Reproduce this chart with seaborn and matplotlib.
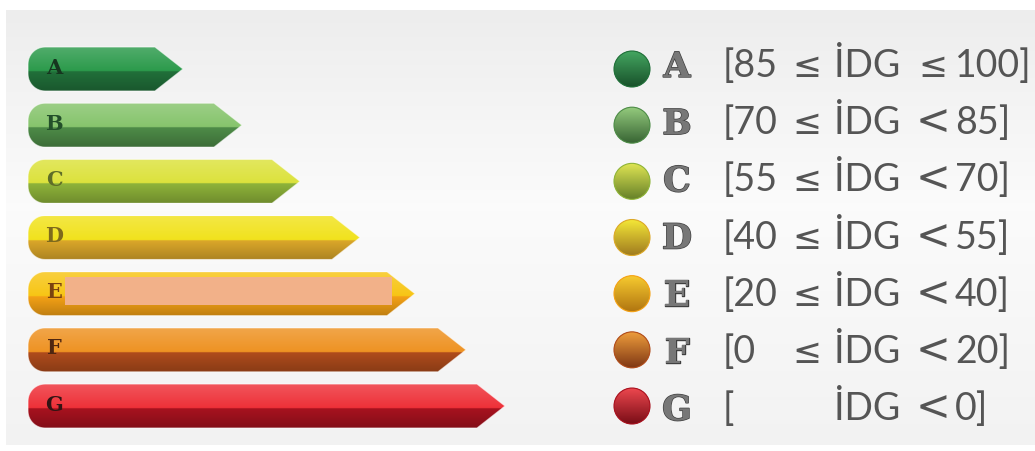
import numpy as np
import pandas as pd
import matplotlib
matplotlib.use("Agg")
import matplotlib.pyplot as plt
import seaborn as sns
from matplotlib.path import Path
from matplotlib.patches import PathPatch, Rectangle, Ellipse
from matplotlib import colors as mcolors
import matplotlib.patheffects as pe

# Energy classes, arrow lengths and score ranges (İDG)
grades = ["A", "B", "C", "D", "E", "F", "G"]
arrow_length = [155, 214, 272, 332, 387, 438, 477]
range_low = ["85", "70", "55", "40", "20", "0", ""]
range_high = ["100", "85", "70", "55", "40", "20", "0"]
high_op = ["≤", "<", "<", "<", "<", "<", "<"]

upper_colors = ["#2b9a4b", "#86c46c", "#dce23c", "#f1e21c", "#f7c514", "#ee9222", "#ee3038"]
lower_colors = ["#21703a", "#4e8c48", "#8fb43a", "#dca82a", "#f5a216", "#b04c1c", "#a8121f"]
letter_colors = ["#16361f", "#234f2a", "#5f6e28", "#7d6a1c", "#7a4210", "#4f2610", "#321414"]

sns.set_theme(style="white")
plt.rcParams["font.family"] = ["DejaVu Sans"]

W, H = 1035, 451
fig = plt.figure(figsize=(W / 100, H / 100), dpi=100)
ax = fig.add_axes([0, 0, 1, 1])

ROW = 56.17          # pixels between rows
X0 = 28              # left edge of the arrows
def ypix(p):
    return (p - 69) / ROW

df = pd.DataFrame({"grade": grades, "length": arrow_length})
sns.barplot(data=df, x="length", y="grade", hue="grade", palette=upper_colors,
            orient="h", width=44 / ROW, legend=False, ax=ax)
bars = list(ax.patches)


def mix(c1, c2, t):
    return c1 + (c2 - c1) * t


def gradient(upper, lower, n=240, split=0.55, light=0.18, dark=0.78):
    up = np.array(mcolors.to_rgb(upper))
    lo = np.array(mcolors.to_rgb(lower))
    up_l = mix(up, np.ones(3), light)
    lo_d = lo * dark
    rows = []
    for v in np.linspace(0, 1, n):
        if v < split:
            rows.append(mix(up_l, up, v / split))
        else:
            rows.append(mix(lo, lo_d, (v - split) / (1 - split)))
    return np.clip(np.array(rows), 0, 1)[:, None, :]


def smooth_gradient(upper, lower, n=120):
    up = mix(np.array(mcolors.to_rgb(upper)), np.ones(3), 0.12)
    lo = np.array(mcolors.to_rgb(lower)) * 0.72
    rows = [mix(up, lo, v) for v in np.linspace(0, 1, n)]
    return np.clip(np.array(rows), 0, 1)[:, None, :]


def arrow_path(x0, y0, w, h, rx, ry, tip):
    xb = x0 + w - tip
    pts = [(x0 + rx, y0), (xb, y0), (x0 + w, y0 + h / 2), (xb, y0 + h), (x0 + rx, y0 + h)]
    cx, cy = x0 + rx, y0 + h - ry
    for a in np.linspace(np.pi / 2, np.pi, 14)[1:]:
        pts.append((cx + rx * np.cos(a), cy + ry * np.sin(a)))
    cx, cy = x0 + rx, y0 + ry
    for a in np.linspace(np.pi, 1.5 * np.pi, 14):
        pts.append((cx + rx * np.cos(a), cy + ry * np.sin(a)))
    pts.append(pts[0])
    codes = [Path.MOVETO] + [Path.LINETO] * (len(pts) - 2) + [Path.CLOSEPOLY]
    return Path(pts, codes)


# soft grey backdrop
bg_t = np.linspace(0, 1, 200)
bg = np.interp(bg_t, [0, 0.45, 1], [0.93, 0.985, 0.95])
ax.imshow(np.repeat(bg[:, None, None], 3, axis=2), extent=(6 - X0, W - X0, ypix(445), ypix(10)),
          origin="upper", aspect="auto", interpolation="bilinear", zorder=0)

# arrows built from the bar geometry
r = 17
for i, b in enumerate(bars):
    b.set_visible(False)
    x0, y0, w, h = b.get_x(), b.get_y(), b.get_width(), b.get_height()
    path = arrow_path(x0, y0, w, h, r, r / ROW, 28)
    shape = PathPatch(path, facecolor="none", edgecolor=(1, 1, 1, 0.6), lw=0.8, zorder=3)
    ax.add_patch(shape)
    im = ax.imshow(gradient(upper_colors[i], lower_colors[i]), extent=(x0, x0 + w, y0 + h, y0),
                   origin="upper", aspect="auto", interpolation="bilinear", zorder=2)
    im.set_clip_path(shape)
    ax.text(x0 + 26, y0 + h / 2 - 1.5 / ROW, grades[i], ha="center", va="center",
            fontsize=15, fontweight="bold", family="DejaVu Serif",
            color=letter_colors[i], zorder=4)

# label strip over class E
ax.add_patch(Rectangle((65 - X0, ypix(277)), 327, ypix(305) - ypix(277),
                       facecolor="#f2b189", edgecolor="none", zorder=5))

# legend dots
cx = 632 - X0
legend_df = pd.DataFrame({"x": [cx] * len(grades), "y": np.arange(len(grades)), "grade": grades})
sns.scatterplot(data=legend_df, x="x", y="y", hue="grade", palette=upper_colors, s=672,
                linewidth=0, legend=False, ax=ax, zorder=2)
for i in range(len(grades)):
    e = Ellipse((cx, i), 36, 36 / ROW, facecolor="none",
                edgecolor=mcolors.to_rgb(lower_colors[i]), lw=0.8, zorder=4)
    ax.add_patch(e)
    im = ax.imshow(smooth_gradient(upper_colors[i], lower_colors[i]),
                   extent=(cx - 18, cx + 18, i + 18 / ROW, i - 18 / ROW), origin="upper",
                   aspect="auto", interpolation="bilinear", zorder=3)
    im.set_clip_path(e)

# legend letters and ranges
text_font = dict(family=["Lato", "DejaVu Sans"], fontsize=27, color="#555555")
sym_font = dict(family=["DejaVu Sans"], fontsize=25, color="#555555")
for i, g in enumerate(grades):
    base = ypix(77 + i * 57.2)
    ax.text(677 - X0, base, g, ha="center", va="baseline", fontsize=25, fontweight="bold",
            family="DejaVu Serif", color="#777777", zorder=4,
            path_effects=[pe.withStroke(linewidth=1.0, foreground="#404040")])
    ax.text(723 - X0, base, "[" + range_low[i], ha="left", va="baseline", zorder=4, **text_font)
    if range_low[i]:
        ax.text(807 - X0, base, "≤", ha="center", va="baseline", zorder=4, **sym_font)
    ax.text(867 - X0, base, "İDG", ha="center", va="baseline", zorder=4, **text_font)
    ax.text(933 - X0, base, high_op[i], ha="center", va="baseline", zorder=4,
            **(sym_font if high_op[i] == "≤" else dict(sym_font, fontsize=30)))
    ax.text(955 - X0, base, range_high[i] + "]", ha="left", va="baseline", zorder=4, **text_font)

ax.set_xlim(-X0, W - X0)
ax.set_ylim(ypix(H), ypix(0))
ax.set_axis_off()
fig.savefig("out.png", dpi=100, facecolor="white")
